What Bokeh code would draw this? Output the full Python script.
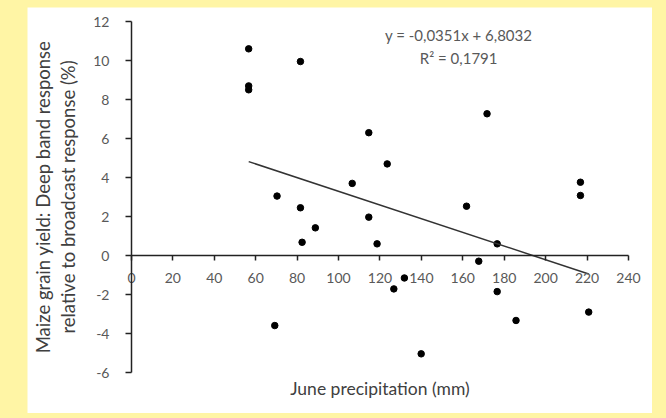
from bokeh.plotting import figure
from bokeh.models import LinearAxis, Label, FixedTicker, Range1d
from bokeh.layouts import column
from bokeh.embed import file_html
from bokeh.resources import INLINE

# June precipitation (mm) and yield response (%)
precip = [56.6, 56.6, 56.6, 81.6, 114.6, 123.5, 106.6, 70.3, 81.6, 114.6,
          88.8, 82.4, 118.6, 126.7, 69.2, 171.7, 216.8, 216.8, 161.8, 176.6,
          167.7, 131.8, 176.6, 185.7, 220.8, 139.9]
response = [10.6, 8.7, 8.5, 9.95, 6.3, 4.7, 3.7, 3.05, 2.45, 1.97,
            1.42, 0.68, 0.6, -1.71, -3.59, 7.27, 3.76, 3.08, 2.53, 0.6,
            -0.29, -1.15, -1.85, -3.33, -2.9, -5.04]

slope = -0.0351
intercept = 6.8032
eq_text = "y = -0,0351x + 6,8032"
r2_text = "R\u00b2 = 0,1791"

x_ticks = list(range(0, 241, 20))
y_ticks = list(range(-6, 13, 2))
x_label = "June precipitation (mm)"
y_label = "Maize grain yield: Deep band response\nrelative to broadcast response (%)"

FONT = "Lato"
TXT = "#404040"
TICK = "#595959"

# frame covers the whole white panel; axes are pinned at x=0 and y=0
p = figure(width=625, height=406, x_range=Range1d(-50.2, 251.6), y_range=Range1d(-8.1, 12.72),
           output_backend="svg", toolbar_location=None, x_axis_location=None,
           min_border=0, min_border_left=0, min_border_right=0,
           min_border_top=0, min_border_bottom=0,
           background_fill_color="white", border_fill_color="white")
p.outline_line_color = None
p.grid.visible = False

ya = p.yaxis[0]
ya.fixed_location = 0
ya.bounds = (-6, 12)
ya.ticker = FixedTicker(ticks=y_ticks)
ya.major_label_overrides = {t: str(t) for t in y_ticks}
ya.axis_label = y_label
ya.axis_label_text_font = FONT
ya.axis_label_text_font_style = "normal"
ya.axis_label_text_font_size = "18.5px"
ya.axis_label_text_line_height = 1.15
ya.axis_label_text_color = TXT
ya.axis_label_standoff = 11
ya.major_tick_out = 6
ya.major_tick_in = 0
ya.minor_tick_out = 0
ya.minor_tick_in = 0
ya.major_label_standoff = 16
ya.major_label_text_font = FONT
ya.major_label_text_font_size = "14px"
ya.major_label_text_color = TICK
ya.axis_line_color = "#222222"
ya.axis_line_width = 1.5
ya.major_tick_line_color = "#222222"
ya.major_tick_line_width = 1.5

xa = LinearAxis(fixed_location=0, bounds=(0, 240), ticker=FixedTicker(ticks=x_ticks))
xa.major_label_overrides = {t: str(t) for t in x_ticks}
xa.major_tick_out = 5
xa.major_tick_in = 0
xa.minor_tick_out = 0
xa.minor_tick_in = 0
xa.major_label_standoff = 12
xa.major_label_text_font = FONT
xa.major_label_text_font_size = "14px"
xa.major_label_text_color = TICK
xa.axis_line_color = "#222222"
xa.axis_line_width = 1.5
xa.major_tick_line_color = "#222222"
xa.major_tick_line_width = 1.5
p.add_layout(xa, "below")

p.scatter(precip, response, size=6.5, color="black")

xs = [min(precip), max(precip)]
ys = [slope * v + intercept for v in xs]
p.line(xs, ys, line_color="#333333", line_width=1.5)

p.add_layout(Label(x=158, y=11.33, text=eq_text, text_align="center", text_baseline="middle",
                   text_font=FONT, text_font_size="15px", text_color=TICK))
p.add_layout(Label(x=158, y=10.15, text=r2_text, text_align="center", text_baseline="middle",
                   text_font=FONT, text_font_size="15px", text_color=TICK))
p.add_layout(Label(x=120, y=-6.82, text=x_label, text_align="center", text_baseline="middle",
                   text_font=FONT, text_font_size="17.5px", text_color=TXT))

p.margin = (7, 14, 5, 27)
layout = column(p, styles={"background-color": "#FFF5A5"})

open("out.html", "w").write(file_html(layout, INLINE))
